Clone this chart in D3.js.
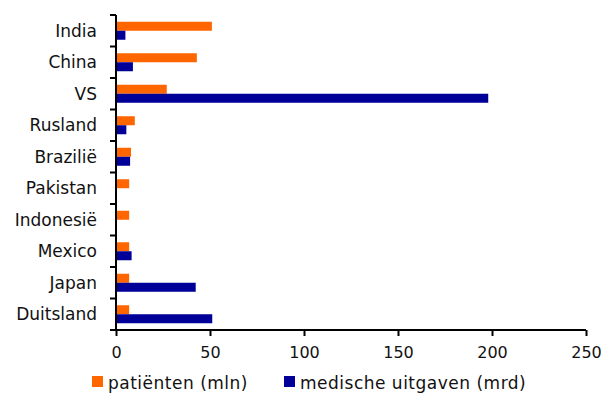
<!DOCTYPE html>
<html>
<head>
<meta charset="utf-8">
<script src="https://cdn.jsdelivr.net/npm/d3@7"></script>
<style>
  body { margin: 0; background: #fff; }
  svg { display: block; font-family: "DejaVu Sans", Verdana, sans-serif; }
</style>
</head>
<body>
<div id="chart"></div>
<script>
const categories = ['India', 'China', 'VS', 'Rusland', 'Brazilië', 'Pakistan', 'Indonesië', 'Mexico', 'Japan', 'Duitsland'];
const patienten = [51, 43, 27, 10, 8, 7, 7, 7, 7, 7];
const uitgaven = [5, 9, 198, 5.5, 7.5, 0, 0, 8.3, 42.4, 51.2];
const seriesNames = ['patiënten (mln)', 'medische uitgaven (mrd)'];
const xTicks = [0, 50, 100, 150, 200, 250];

const colors = ['#ff6600', '#000099'];
const width = 605, height = 394;
const margin = { top: 15, left: 116, right: 19, bottom: 64 };
const iw = width - margin.left - margin.right;
const ih = height - margin.top - margin.bottom;

const svg = d3.select('#chart').append('svg')
    .attr('width', width).attr('height', height);
const g = svg.append('g').attr('transform', `translate(${margin.left},${margin.top})`);

const x = d3.scaleLinear().domain([0, 250]).range([0, iw]);
const y = d3.scaleBand().domain(categories).range([0, ih]).padding(0);
const sub = d3.scaleBand().domain([0, 1]).range([0, y.bandwidth()]).paddingInner(0).paddingOuter(0.75);

const rows = categories.map((c, i) => ({ c, vals: [patienten[i], uitgaven[i]] }));

// Bars
const row = g.selectAll('g.row').data(rows).enter().append('g')
    .attr('transform', (d) => `translate(0,${y(d.c)})`);
row.selectAll('rect').data((d) => d.vals.map((v, k) => ({ v, k }))).enter().append('rect')
    .attr('x', 0)
    .attr('y', (d) => sub(d.k))
    .attr('height', sub.bandwidth())
    .attr('width', (d) => x(d.v))
    .attr('fill', (d) => colors[d.k]);

// Y axis (category boundaries as ticks)
const yAxis = g.append('g');
yAxis.append('line').attr('x1', 0).attr('x2', 0).attr('y1', 0).attr('y2', ih)
    .attr('stroke', '#000').attr('stroke-width', 2);
yAxis.selectAll('line.tick').data(categories).enter().append('line')
    .attr('x1', -6).attr('x2', 0)
    .attr('y1', (d) => y(d)).attr('y2', (d) => y(d))
    .attr('stroke', '#000').attr('stroke-width', 2);
yAxis.selectAll('text').data(categories).enter().append('text')
    .attr('x', -19)
    .attr('y', (d) => y(d) + y.bandwidth() / 2)
    .attr('dy', '0.36em')
    .attr('text-anchor', 'end')
    .attr('fill', '#111')
    .style('font-size', '17px')
    .text((d) => d);

// X axis
const xAxis = g.append('g').attr('transform', `translate(0,${ih})`)
    .call(d3.axisBottom(x).tickValues(xTicks).tickSize(6).tickPadding(11).tickSizeOuter(0));
xAxis.select('.domain').attr('d', `M-6,0H${iw}`).attr('stroke-width', 2);
xAxis.selectAll('.tick line').attr('stroke-width', 2);
xAxis.selectAll('.tick text').style('font-size', '16px').attr('fill', '#111')
    .style('font-family', '"DejaVu Sans", Verdana, sans-serif');

// Legend
const legendX = [92, 284];
const legend = svg.append('g');
seriesNames.forEach((name, k) => {
    legend.append('rect').attr('x', legendX[k]).attr('y', 376).attr('width', 11).attr('height', 11)
        .attr('fill', colors[k]);
    legend.append('text').attr('x', legendX[k] + 16).attr('y', 389)
        .attr('fill', '#111').style('font-size', '17px').style('letter-spacing', '0.5px').text(name);
});
</script>
</body>
</html>
